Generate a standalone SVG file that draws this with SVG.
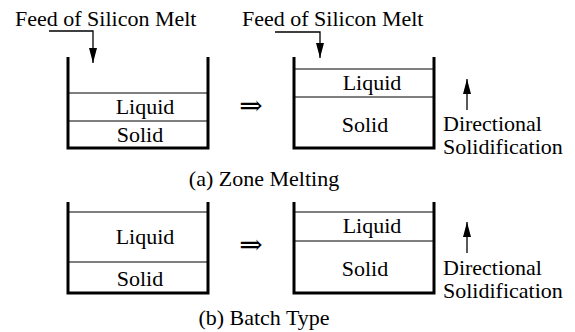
<svg xmlns="http://www.w3.org/2000/svg" width="575" height="332" viewBox="0 0 575 332">
<defs>
<style>
.t{font-family:"Liberation Serif","Times New Roman",serif;font-size:22px;fill:#000}
.m{text-anchor:middle}
.wall{fill:none;stroke:#000;stroke-width:3}
.thin{stroke:#000;stroke-width:1.2}
.conn{fill:none;stroke:#000;stroke-width:1.3}
.sym{font-family:"DejaVu Serif","DejaVu Sans",serif;font-size:28px;fill:#000}
</style>
<marker id="ah" viewBox="0 0 15 8" refX="15" refY="4" markerWidth="15" markerHeight="8" markerUnits="userSpaceOnUse" orient="auto">
<path d="M0,0 L15,4 L0,8 Z" fill="#000"/>
</marker>
</defs>
<rect width="575" height="332" fill="#fff"/>

<g id="a-left">
<path class="wall" d="M68,57 V148 H208 V57"/>
<line class="thin" x1="68" y1="93" x2="208" y2="93"/>
<line class="thin" x1="68" y1="121" x2="208" y2="121"/>
<text class="t m" x="145" y="114">Liquid</text>
<text class="t m" x="140" y="142">Solid</text>
</g>
<g id="a-right">
<path class="wall" d="M294,57 V148 H434 V57"/>
<line class="thin" x1="294" y1="69" x2="434" y2="69"/>
<line class="thin" x1="294" y1="97" x2="434" y2="97"/>
<text class="t m" x="372" y="90">Liquid</text>
<text class="t m" x="365" y="132">Solid</text>
</g>
<g id="b-left">
<path class="wall" d="M68,202 V293 H208 V202"/>
<line class="thin" x1="68" y1="212" x2="208" y2="212"/>
<line class="thin" x1="68" y1="262" x2="208" y2="262"/>
<text class="t m" x="145" y="244">Liquid</text>
<text class="t m" x="140" y="286">Solid</text>
</g>
<g id="b-right">
<path class="wall" d="M294,202 V293 H434 V202"/>
<line class="thin" x1="294" y1="212" x2="434" y2="212"/>
<line class="thin" x1="294" y1="241" x2="434" y2="241"/>
<text class="t m" x="372" y="233">Liquid</text>
<text class="t m" x="365" y="276">Solid</text>
</g>

<g id="labels">
<text class="t" x="15" y="26">Feed of Silicon Melt</text>
<text class="t" x="242" y="26">Feed of Silicon Melt</text>
<text class="sym m" x="251" y="115">⇒</text>
<text class="sym m" x="251" y="254">⇒</text>
<text class="t" x="443" y="131">Directional</text>
<text class="t" x="443" y="154">Solidification</text>
<text class="t" x="443" y="275">Directional</text>
<text class="t" x="443" y="298">Solidification</text>
<text class="t m" x="264" y="186">(a) Zone Melting</text>
<text class="t m" x="264" y="325">(b) Batch Type</text>
</g>

<g id="connectors">
<path class="conn" d="M49,31 H93 V63" marker-end="url(#ah)"/>
<path class="conn" d="M275,32 H320 V58" marker-end="url(#ah)"/>
<path class="conn" d="M467,110 V79" marker-end="url(#ah)"/>
<path class="conn" d="M467,253 V222" marker-end="url(#ah)"/>
</g>
</svg>
